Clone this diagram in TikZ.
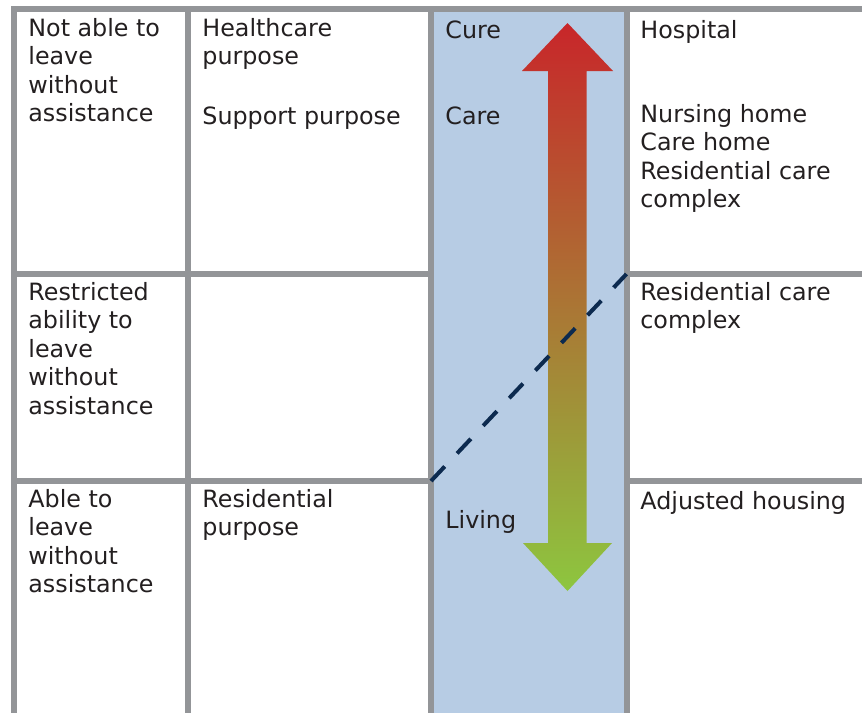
\documentclass[tikz,border=0pt]{standalone}
\usepackage{fontspec}
\setmainfont{DejaVu Sans}
\usepackage{tikz}
\definecolor{grille}{HTML}{939598}
\definecolor{ciel}{HTML}{B7CCE4}
\definecolor{encre}{HTML}{231F20}
\definecolor{marine}{HTML}{0C2A4F}
\definecolor{rouge}{HTML}{C8262A}
\definecolor{olive}{HTML}{ADA03A}
\definecolor{vert}{HTML}{8DC63F}
\newcommand{\cellfont}{\fontsize{11.9}{14.25}\selectfont}
\tikzset{
  cell/.style={anchor=north west,inner sep=0pt,align=left,font=\cellfont,text=encre,execute at begin node=\strut},
  rule/.style={grille,line width=3pt}
}

\begin{document}
\begin{tikzpicture}[x=0.5pt,y=-0.5pt]
  \useasboundingbox (0,0) rectangle (862,713);
  \fill[ciel] (431,8.5) rectangle (626.5,713);
  \shade[top color=rouge,middle color=olive,bottom color=vert] (567.5,23) -- (613,71) -- (586.5,71) -- (586.5,543) -- (612,543) -- (567.5,591) -- (523,543) -- (548,543) -- (548,71) -- (522,71) -- cycle;
  \draw[rule] (11,8.5) -- (862,8.5);
  \foreach \x in {14,188,431,626.5} \draw[rule] (\x,8.5) -- (\x,713);
  \foreach \y in {274,481} {\draw[rule] (14,\y) -- (431,\y); \draw[rule] (626.5,\y) -- (862,\y);}
  \draw[marine,line width=2pt,dash pattern=on 10pt off 9pt] (431,481) -- (626.5,274);
  % mobility
  \node[cell] (mobility1) at (28,18) {Not able to\\leave\\without\\assistance};
  \node[cell] (mobility2) at (28,282) {Restricted\\ability to\\leave\\without\\assistance};
  \node[cell] (mobility3) at (28,489) {Able to\\leave\\without\\assistance};
  % purpose
  \node[cell] (purpose1) at (202,18) {Healthcare\\purpose};
  \node[cell] (purpose2) at (202,104) {Support purpose};
  \node[cell] (purpose3) at (202,489) {Residential\\purpose};
  % level
  \node[cell] (cure) at (445,18) {Cure};
  \node[cell] (care) at (445,104) {Care};
  \node[cell] (living) at (445,508) {Living};
  % housing
  \node[cell] (housing1) at (640,18) {Hospital};
  \node[cell] (housing2) at (640,104) {Nursing home\\Care home\\Residential care\\complex};
  \node[cell] (housing3) at (640,282) {Residential care\\complex};
  \node[cell] (housing4) at (640,489) {Adjusted housing};
\end{tikzpicture}
\end{document}
